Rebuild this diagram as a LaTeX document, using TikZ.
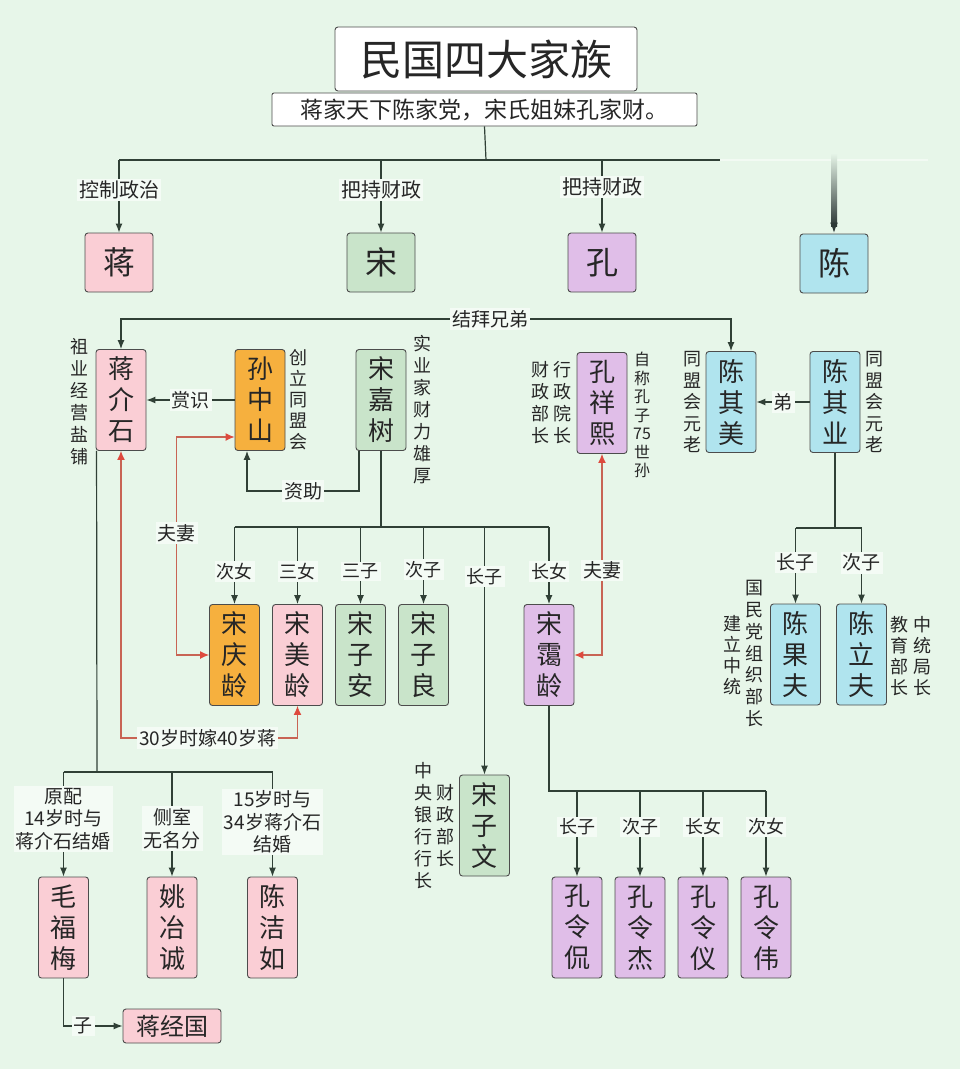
\documentclass[tikz,border=0pt]{standalone}
\usepackage{fontspec}
\setmainfont{Noto Sans CJK SC}
\usetikzlibrary{shapes, arrows.meta, positioning, backgrounds}
\definecolor{bgc}{RGB}{231,246,233}
\definecolor{lblc}{RGB}{244,251,245}
\definecolor{linec}{RGB}{48,64,54}
\definecolor{slatec}{RGB}{44,56,54}
\definecolor{redl}{RGB}{200,100,84}
\definecolor{redtip}{RGB}{222,74,62}
\definecolor{pinkc}{RGB}{250,206,213}
\definecolor{greenc}{RGB}{201,228,202}
\definecolor{purplec}{RGB}{224,190,232}
\definecolor{cyanc}{RGB}{176,228,238}
\definecolor{orangec}{RGB}{246,176,62}
\tikzstyle{namebox} = [rectangle, rounded corners=3pt, draw=black!70, line width=0.9pt, minimum width=50pt, minimum height=101pt, inner sep=0pt, align=center, text=black!85, font=\fontsize{26}{31}\selectfont]
\tikzstyle{famblock} = [rectangle, rounded corners=3pt, draw=black!70, line width=0.9pt, minimum width=68pt, minimum height=59pt, text=black!85, font=\fontsize{32}{32}\selectfont]
\tikzstyle{note} = [align=center, inner sep=0pt, text=black!85, font=\fontsize{18}{22}\selectfont]
\tikzstyle{lbl} = [fill=lblc, inner sep=2pt, align=center, text=black!85, font=\fontsize{19}{22.5}\selectfont]
\tikzstyle{link} = [draw=linec, line width=1.2pt]
\tikzstyle{arrow} = [link, -{Latex[length=9pt,width=7pt]}]
\tikzstyle{wed} = [draw=redl, line width=1.1pt, {Latex[length=9pt,width=8pt,color=redtip]}-{Latex[length=9pt,width=8pt,color=redtip]}]

\begin{document}
\begin{tikzpicture}[x=1pt, y=-1pt, node distance=63pt, background rectangle/.style={fill=bgc}, show background rectangle, inner frame sep=0pt]
    \useasboundingbox (0,0) rectangle (960,1069);

    % title
    \node (title) [rectangle, rounded corners=3pt, draw=black!70, line width=0.9pt, fill=white, minimum width=302pt, minimum height=64pt, text=black!85, font=\fontsize{42}{42}\selectfont] at (486,59) {民国四大家族};
    \node (motto) [rectangle, rounded corners=2pt, draw=black!70, line width=0.9pt, fill=white, minimum width=425pt, minimum height=33pt, inner sep=0pt, text=black!85, font=\fontsize{23}{23}\selectfont] at (484.5,109.5) {蒋家天下陈家党，宋氏姐妹孔家财。};

    % four families
    \node (jiang) [famblock, fill=pinkc] at (119,262.5) {蒋};
    \node (song) [famblock, fill=greenc] at (381,262.5) {宋};
    \node (kong) [famblock, fill=purplec] at (602,262.5) {孔};
    \node (chen) [famblock, fill=cyanc] at (834,263.5) {陈};

    \coordinate (hub) at (486,160);
    \coordinate (hubR) at (720,160);
    \coordinate (hubF) at (928,160);
    \coordinate (chentail) at (834,224);
    \draw [link] (motto.south) -- (hub);
    \draw [link] (jiang.north |- hub) -- (hubR);
    \draw [white!45!bgc, line width=1.6pt] (hubR) -- (hubF);
    \draw [arrow] (jiang.north |- hub) -- node[lbl, pos=0.41, font=\fontsize{20}{20}\selectfont] {控制政治} (jiang.north);
    \draw [arrow] (song.north |- hub) -- node[lbl, pos=0.41, font=\fontsize{20}{20}\selectfont] {把持财政} (song.north);
    \draw [arrow] (kong.north |- hub) -- node[lbl, pos=0.37, font=\fontsize{20}{20}\selectfont] {把持财政} (kong.north);
    \shade [top color=bgc, bottom color=slatec] (831,153) rectangle (837,226);
    \draw [-{Latex[length=11pt,width=8pt]}, slatec, line width=4pt] (chentail) -- (chen.north);

    % second generation
    \node (jjs) [namebox, fill=pinkc] at (121,400) {蒋\\介\\石};
    \node (szs) [namebox, fill=orangec] at (260,400) {孙\\中\\山};
    \node (sjs) [namebox, fill=greenc] at (381,400) {宋\\嘉\\树};
    \node (kxx) [namebox, fill=purplec] at (602,403) {孔\\祥\\熙};
    \node (cqm) [namebox, fill=cyanc] at (731,402) {陈\\其\\美};
    \node (cqy) [namebox, fill=cyanc] at (835,402) {陈\\其\\业};

    \node (jjsnote) [note] at (79,402) {祖\\业\\经\\营\\盐\\铺};
    \node (szsnote) [note, font=\fontsize{18}{21}\selectfont] at (298,400) {创\\立\\同\\盟\\会};
    \node (sjsnote) [note] at (422,410) {实\\业\\家\\财\\力\\雄\\厚};
    \node (kxxnoteA) [note] at (562,403) {行\\政\\院\\长};
    \node (kxxnoteB) [note] at (540,403) {财\\政\\部\\长};
    \node (kxxnoteC) [note, font=\fontsize{16}{18.5}\selectfont] at (642,415) {自\\称\\孔\\子\\75\\世\\孙};
    \node (cqmnote) [note, font=\fontsize{18}{21.5}\selectfont] at (692,402) {同\\盟\\会\\元\\老};
    \node (cqynote) [note, font=\fontsize{18}{21.5}\selectfont] at (874,402) {同\\盟\\会\\元\\老};

    \node (brothers) [lbl] at (490,319) {结拜兄弟};
    \draw [arrow] (brothers.west) -| (jjs.north);
    \draw [arrow] (brothers.east) -| (cqm.north);
    \draw [arrow] (szs.west) -- node[lbl] {赏识} (jjs.east);
    \draw [arrow] (cqy.west) -- node[lbl] {弟} (cqm.east);
    \draw [arrow] ([xshift=-22pt]sjs.south) -- ++(0,40) -- node[lbl] {资助} ++(-112,0) -- ([xshift=-13pt]szs.south);

    % Song children
    \node (sql) [namebox, fill=orangec] at (234.5,655) {宋\\庆\\龄};
    \node (sml) [namebox, fill=pinkc, right of=sql] {宋\\美\\龄};
    \node (sza) [namebox, fill=greenc, right of=sml] {宋\\子\\安};
    \node (szl) [namebox, fill=greenc, right of=sza] {宋\\子\\良};
    \node (sal) [namebox, fill=purplec] at (549,655) {宋\\霭\\龄};
    \node (szw) [namebox, fill=greenc] at (484.5,825.5) {宋\\子\\文};
    \node (szwnoteA) [note] at (423,826) {中\\央\\银\\行\\行\\长};
    \node (szwnoteB) [note] at (445,825.5) {财\\政\\部\\长};

    \coordinate (sbus) at (381,527);
    \draw [link] (sjs.south) -- (sbus);
    \draw [link] (sql.north |- sbus) -- (sal.north |- sbus);
    \draw [arrow] (sql.north |- sbus) -- node[lbl, pos=0.58, font=\fontsize{18}{18}\selectfont] {次女} (sql.north);
    \draw [arrow] (sml.north |- sbus) -- node[lbl, pos=0.58, font=\fontsize{18}{18}\selectfont] {三女} (sml.north);
    \draw [arrow] (sza.north |- sbus) -- node[lbl, pos=0.58, font=\fontsize{18}{18}\selectfont] {三子} (sza.north);
    \draw [arrow] (szl.north |- sbus) -- node[lbl, pos=0.55, font=\fontsize{18}{18}\selectfont] {次子} (szl.north);
    \draw [arrow] (szw.north |- sbus) -- node[lbl, pos=0.2, font=\fontsize{18}{18}\selectfont] {长子} (szw.north);
    \draw [arrow] (sal.north |- sbus) -- node[lbl, pos=0.58, font=\fontsize{18}{18}\selectfont] {长女} (sal.north);

    % marriages
    \draw [wed] ([yshift=-37pt]szs.west) -- ++(-58,0) -- node[lbl, pos=0.44] {夫妻} ++(0,218) -- (sql.west);
    \draw [wed] (jjs.south) -- ++(0,287) -| node[lbl, pos=0.246] {30岁时嫁40岁蒋} (sml.south);
    \draw [wed] (sal.east) -| node[lbl, pos=0.71] {夫妻} (kxx.south);

    % Chen children
    \node (cgf) [namebox, fill=cyanc] at (795.5,654.5) {陈\\果\\夫};
    \node (clf) [namebox, fill=cyanc] at (861.5,654.5) {陈\\立\\夫};
    \node (cgfnoteA) [note] at (754,653.5) {国\\民\\党\\组\\织\\部\\长};
    \node (cgfnoteB) [note, font=\fontsize{18}{21}\selectfont] at (732,655) {建\\立\\中\\统};
    \node (clfnoteA) [note, font=\fontsize{18}{21}\selectfont] at (899,656) {教\\育\\部\\长};
    \node (clfnoteB) [note, font=\fontsize{18}{21}\selectfont] at (922,656) {中\\统\\局\\长};

    \coordinate (cbus) at (835,528);
    \draw [link] (cqy.south) -- (cbus);
    \draw [link] (cgf.north |- cbus) -- (clf.north |- cbus);
    \draw [arrow] (cgf.north |- cbus) -- node[lbl, pos=0.46] {长子} (cgf.north);
    \draw [arrow] (clf.north |- cbus) -- node[lbl, pos=0.46] {次子} (clf.north);

    % Kong children
    \node (kl1) [namebox, fill=purplec] at (577,927.5) {孔\\令\\侃};
    \node (kl2) [namebox, fill=purplec, right of=kl1] {孔\\令\\杰};
    \node (kl3) [namebox, fill=purplec, right of=kl2] {孔\\令\\仪};
    \node (kl4) [namebox, fill=purplec, right of=kl3] {孔\\令\\伟};

    \coordinate (kbus) at (549,791);
    \draw [link] (sal.south) |- (kl4.north |- kbus);
    \draw [arrow] (kl1.north |- kbus) -- node[lbl, pos=0.42, font=\fontsize{18}{18}\selectfont] {长子} (kl1.north);
    \draw [arrow] (kl2.north |- kbus) -- node[lbl, pos=0.42, font=\fontsize{18}{18}\selectfont] {次子} (kl2.north);
    \draw [arrow] (kl3.north |- kbus) -- node[lbl, pos=0.42, font=\fontsize{18}{18}\selectfont] {长女} (kl3.north);
    \draw [arrow] (kl4.north |- kbus) -- node[lbl, pos=0.42, font=\fontsize{18}{18}\selectfont] {次女} (kl4.north);

    % Jiang wives
    \node (mfm) [namebox, fill=pinkc] at (63.5,927.5) {毛\\福\\梅};
    \node (yyc) [namebox, fill=pinkc] at (172,927.5) {姚\\冶\\诚};
    \node (cjr) [namebox, fill=pinkc] at (272.5,927.5) {陈\\洁\\如};
    \node (jjg) [rectangle, rounded corners=3pt, draw=black!70, line width=0.9pt, fill=pinkc, minimum width=98pt, minimum height=34pt, inner sep=0pt, text=black!85, font=\fontsize{24}{24}\selectfont] at (172,1026) {蒋经国};

    \coordinate (wbus) at (97,772);
    \draw [link] ([xshift=1pt]jjs.south west) -- (wbus);
    \draw [link] (mfm.north |- wbus) -- (cjr.north |- wbus);
    \draw [arrow] (mfm.north |- wbus) -- node[lbl, pos=0.45] {原配\\14岁时与\\蒋介石结婚} (mfm.north);
    \draw [arrow] (yyc.north |- wbus) -- node[lbl, pos=0.54] {侧室\\无名分} (yyc.north);
    \draw [arrow] (cjr.north |- wbus) -- node[lbl, pos=0.48] {15岁时与\\34岁蒋介石\\结婚} (cjr.north);
    \draw [arrow] (mfm.south) |- node[lbl, pos=0.667] {子} (jjg.west);

\end{tikzpicture}
\end{document}
